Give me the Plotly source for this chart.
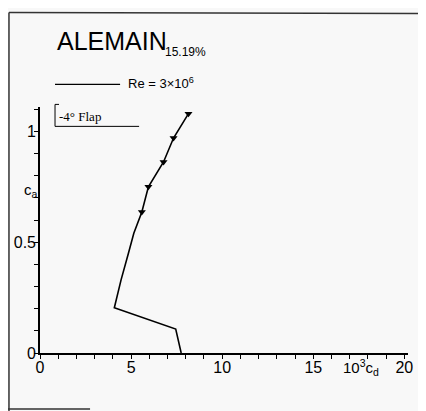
import plotly.graph_objects as go

# ---- data ----
cd_curve = [7.75, 7.45, 4.08, 4.45, 4.85, 5.15, 5.59, 5.95, 6.78, 7.33, 8.15]
cl_curve = [0.0, 0.108, 0.204, 0.33, 0.449, 0.54, 0.636, 0.75, 0.862, 0.97, 1.08]
cd_marks = [5.59, 5.95, 6.78, 7.33, 8.15]
cl_marks = [0.636, 0.75, 0.862, 0.97, 1.08]
x_ticks = list(range(0, 21))
x_labels = ["0" if v == 0 else (str(v) if v % 5 == 0 else "") for v in x_ticks]
y_ticks = [round(0.1 * i, 1) for i in range(0, 12)]
y_labels = {0.0: "0", 0.5: "0.5", 1.0: "1"}
y_text = [y_labels.get(v, "") for v in y_ticks]

# page body has an 8px margin; compensate so the figure lines up with the window
OX, OY = 8, 8
W, H = 426 - OX, 411 - OY
L, T = 40 - OX, 106.6 - OY
w, h = 367.6, 246.4
R = W - L - w
B = H - T - h
BG = "#f8f8f8"
FONT = "Liberation Sans, DejaVu Sans, sans-serif"


def px(x):
    return (x - OX - L) / w


def py(y):
    return (H - B - (y - OY)) / h


fig = go.Figure()
fig.add_trace(go.Scatter(x=cd_curve, y=cl_curve, mode="lines",
                         line=dict(color="black", width=1.6), showlegend=False,
                         hoverinfo="skip"))
fig.add_trace(go.Scatter(x=cd_marks, y=cl_marks, mode="markers",
                         marker=dict(symbol="triangle-down", size=7, color="black"),
                         showlegend=False))

shapes = []
line = dict(color="#333", width=1.5)
# scan frame pieces
shapes.append(dict(type="line", xref="paper", yref="paper", x0=px(9), x1=px(426), y0=py(12), y1=py(13), line=line))
shapes.append(dict(type="line", xref="paper", yref="paper", x0=px(9), x1=px(9), y0=py(12), y1=py(411), line=line))
shapes.append(dict(type="line", xref="paper", yref="paper", x0=px(8), x1=px(90), y0=py(409), y1=py(409), line=line))
shapes.append(dict(type="line", xref="paper", yref="paper", x0=px(424.5), x1=px(424.5), y0=py(345), y1=py(411), line=line))
# legend line
shapes.append(dict(type="line", xref="paper", yref="paper", x0=px(55), x1=px(120), y0=py(84), y1=py(84),
                   line=dict(color="black", width=1.3)))
# bracket for "-4° Flap"
shapes.append(dict(type="line", xref="paper", yref="paper", x0=px(55), x1=px(55), y0=py(104), y1=py(126),
                   line=dict(color="black", width=1)))
shapes.append(dict(type="line", xref="paper", yref="paper", x0=px(55), x1=px(59), y0=py(104), y1=py(104),
                   line=dict(color="black", width=1)))
shapes.append(dict(type="line", xref="paper", yref="paper", x0=px(55), x1=px(139), y0=py(126), y1=py(126),
                   line=dict(color="black", width=1)))

ann = []


def add(text, x, y, size, xanchor="left", yanchor="middle", family=FONT):
    ann.append(dict(text=text, xref="paper", yref="paper", x=px(x), y=py(y), showarrow=False,
                    xanchor=xanchor, yanchor=yanchor, font=dict(size=size, family=family, color="black")))


add("ALEMAIN", 55, 40, 25)
add("15.19%", 163, 52, 12)
add("Re = 3×10<sup>6</sup>", 126, 83, 13)
add("-4° Flap", 57, 116, 13, family="Liberation Serif, DejaVu Serif, serif")
add("c<sub>a</sub>", 40, 190, 15, xanchor="right")
add("10<sup>3</sup>c<sub>d</sub>", 341, 368, 15)

fig.update_layout(
    width=W, height=H,
    margin=dict(l=L, r=R, t=T, b=B, pad=0, autoexpand=False),
    paper_bgcolor=BG, plot_bgcolor=BG,
    shapes=shapes, annotations=ann,
    font=dict(family=FONT, color="black", size=16),
    xaxis=dict(range=[0, 20.2], tickvals=x_ticks, ticktext=x_labels, ticks="outside", ticklen=4,
               tickwidth=1, tickcolor="black", showline=True, linecolor="black", linewidth=1.6,
               showgrid=False, zeroline=False, tickfont=dict(size=16), automargin=False,
               ticklabelstandoff=-5),
    yaxis=dict(range=[0, 1.11], tickvals=y_ticks, ticktext=y_text, ticks="outside", ticklen=4,
               tickwidth=1, tickcolor="black", showline=True, linecolor="black", linewidth=1.6,
               showgrid=False, zeroline=False, tickfont=dict(size=16), automargin=False,
               ticklabelstandoff=-5),
)

fig.write_html("out.html")
